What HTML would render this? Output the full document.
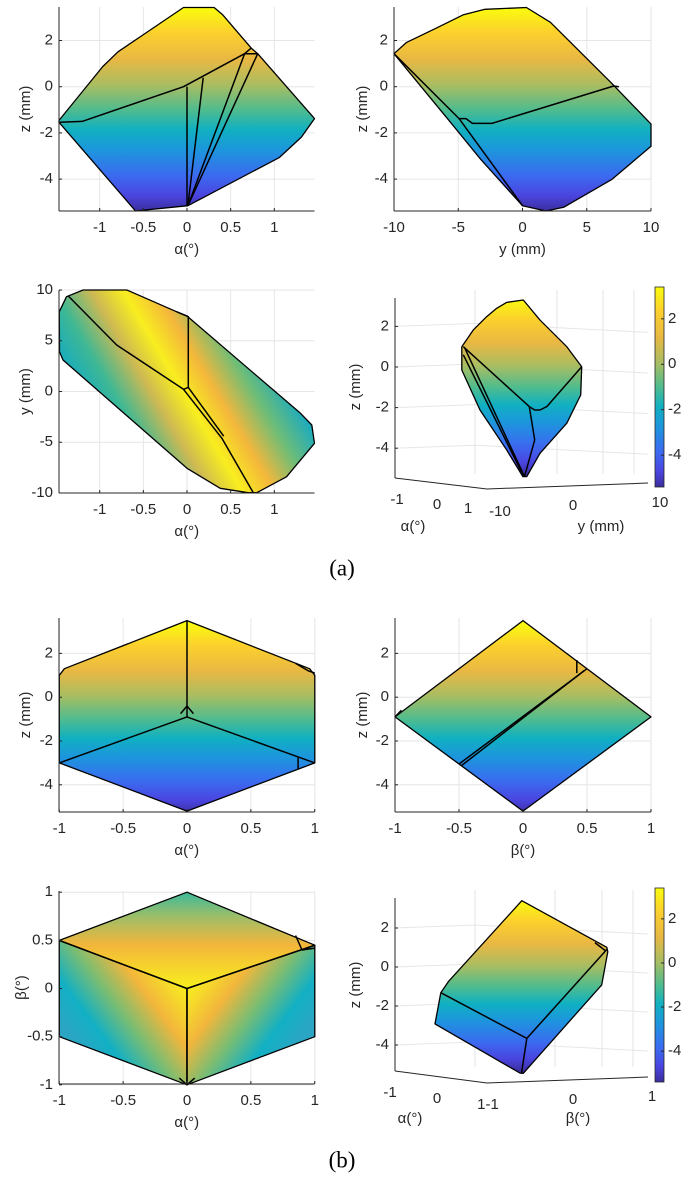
<!DOCTYPE html>
<html><head><meta charset="utf-8">
<style>
html,body{margin:0;padding:0;background:#fff;}
svg{display:block;font-family:"Liberation Sans",sans-serif;}
.tk{font-size:15px;fill:#262626;}
.cap{font-family:"Liberation Serif",serif;font-size:23px;fill:#000;}
</style></head>
<body>
<svg id="fig" width="685" height="1184" viewBox="0 0 685 1184" xmlns="http://www.w3.org/2000/svg">
<defs id="defs"></defs>
</svg>
<script>
// ---------- data (shape vertices in axis units) ----------
const a1Outline=[[-1.466,-1.46],[-0.966,0.87],[-0.79,1.51],[-0.54,2.15],[-0.04,3.43],[0.31,3.43],[0.41,3.11],[0.735,1.67],[0.81,1.43],[1.46,-1.38],[1.31,-2.18],[1.06,-3.06],[0.01,-5.15],[-0.59,-5.38],[-1.466,-1.54]];
const a1Edges=[[[-1.46,-1.54],[-1.2,-1.5],[-0.04,0],[0.66,1.43],[0.81,1.43]],[[0,0],[0,-5.15]],[[0.185,0.39],[0.01,-5.15]],[[0.66,1.43],[0.01,-5.15]],[[0.81,1.43],[0.01,-5.15]],[[0.66,1.43],[0.735,1.67]]];
const a2Outline=[[-10,1.43],[-9.04,1.91],[-6.66,2.55],[-4.63,3.11],[-2.92,3.35],[0.3,3.43],[2.17,2.79],[6.93,0.15],[10,-1.62],[10,-2.58],[6.93,-4.02],[3.2,-5.22],[1.83,-5.38],[0,-5.15],[-3.26,-3.14],[-5.6,-1.54]];
const a2Edges=[[[-10,1.43],[-4.93,-1.38],[-4.4,-1.38],[-3.9,-1.59],[-2.38,-1.59],[7.1,0.03],[7.5,0]],[[-4.93,-1.38],[0,-5.15]]];
const a3Outline=[[-1.463,7.86],[-1.38,9.34],[-1.19,10],[-0.69,10],[-0.12,7.86],[0,7.44],[1.3,-2.15],[1.43,-3.3],[1.46,-5.1],[1.14,-8.4],[0.8,-9.97],[0.7,-9.97],[0.38,-9.54],[0,-7.57],[-1.42,3.1],[-1.46,3.92]];
const a3Edges=[[[-1.36,9.41],[-0.805,4.58],[-0.04,0.22],[0.015,0.4],[0.015,7.37],[-0.12,7.86]],[[-0.04,0.22],[0.4,-4.61],[0.76,-9.97]],[[0.015,0.4],[0.42,-4.4]]];
const a4Outline=[[0.441,3.18],[0.507,3.3],[0.573,2.31],[0.679,1.0],[0.738,0.01],[0.734,-1.38],[0.679,-2.77],[0.573,-4.25],[0.521,-5.4],[0.505,-5.4],[0.441,-4.08],[0.336,-2.12],[0.264,-0.15],[0.264,1.0],[0.309,1.82],[0.362,2.48],[0.402,2.89]];
const a4Edges=[[[0.27,1.0],[0.531,-1.95],[0.552,-2.12],[0.573,-2.12],[0.6,-1.95],[0.738,0.01]],[[0.531,-1.95],[0.552,-3.59],[0.512,-5.4]],[[0.275,0.95],[0.512,-5.4]],[[0.27,0.6],[0.505,-5.3]]];
const b1Outline=[[0,3.5],[0.96,1.3],[1,1.0],[1,-3.0],[0,-5.2],[-1,-3.0],[-1,1.0],[-0.96,1.3]];
const b1Edges=[[[0,3.5],[0,-0.9]],[[-1,-3.0],[0,-0.9],[1,-3.0]],[[-0.05,-0.75],[0,-0.4],[0.05,-0.75]],[[0.87,-2.75],[0.87,-3.3]],[[0.85,1.55],[0.95,1.2],[1,1.1]]];
const b2Outline=[[0,3.5],[1,-0.9],[0,-5.2],[-1,-0.9]];
const b2Edges=[[[-0.5,-3.05],[0.5,1.3]],[[-0.48,-3.12],[0.48,1.22]],[[0.42,1.7],[0.42,1.1]],[[-1,-0.9],[-0.95,-0.6]]];
const b3Top=[[0,1],[1,0.45],[0,0],[-1,0.5]];
const b3Left=[[-1,0.5],[0,0],[0,-1],[-1,-0.5]];
const b3Right=[[0,0],[1,0.45],[1,-0.5],[0,-1]];
const b3Edges=[[[-1,0.5],[0,0],[1,0.45]],[[0,0],[0,-1]],[[0.85,0.55],[0.9,0.4],[1,0.42]],[[-0.06,-0.93],[0,-1],[0.06,-0.93]]];
const b4Outline=[[0.501,3.4],[0.837,1.01],[0.841,0.78],[0.817,-0.92],[0.507,-5.45],[0.494,-5.44],[0.158,-2.92],[0.181,-1.32],[0.211,-0.75]];
const b4Edges=[[[0.181,-1.32],[0.521,-3.66],[0.837,0.9]],[[0.521,-3.66],[0.5,-5.45]],[[0.79,1.25],[0.83,0.85]]];
const zTicks=[2,0,-2,-4];
const alphaTicksA=[-1,-0.5,0,0.5,1];
const yTicks=[-10,-5,0,5,10];
const unitTicks=[-1,-0.5,0,0.5,1];
const cbTicks=[2,0,-2,-4];
const zMin=-5.4, zMax=3.4;

// ---------- helpers ----------
const NS='http://www.w3.org/2000/svg';
const svg=document.getElementById('fig');
const defs=document.getElementById('defs');
function mk(tag,attrs,parent){const e=document.createElementNS(NS,tag);for(const k in attrs)e.setAttribute(k,attrs[k]);(parent||svg).appendChild(e);return e;}
function txt(x,y,s,cls,anchor,parent,rot){const t=mk('text',{x:x,y:y,'class':cls,'text-anchor':anchor||'middle','dominant-baseline':'middle'},parent);if(rot)t.setAttribute('transform','rotate(-90 '+x+' '+y+')');t.textContent=s;return t;}
const parStops=[[0,'#f9fb0e'],[0.12,'#fcd02d'],[0.25,'#e9b843'],[0.38,'#a8bd62'],[0.5,'#4fbc8e'],[0.6,'#10b0c2'],[0.7,'#1d95dd'],[0.82,'#3a6cf0'],[0.92,'#4a45e0'],[1,'#3b2e9c']];
function parula(id,yTop,yBot){const g=mk('linearGradient',{id:id,gradientUnits:'userSpaceOnUse',x1:0,y1:yTop,x2:0,y2:yBot},defs);parStops.forEach(s=>mk('stop',{offset:s[0],'stop-color':s[1]},g));}
function lin(id,x1,y1,x2,y2,stops){const g=mk('linearGradient',{id:id,gradientUnits:'userSpaceOnUse',x1:x1,y1:y1,x2:x2,y2:y2},defs);stops.forEach(s=>mk('stop',{offset:s[0],'stop-color':s[1]},g));}
function pts(arr,X,Y){return arr.map(p=>X(p[0]).toFixed(1)+','+Y(p[1]).toFixed(1)).join(' ');}
function axes2d(g,L,R,T,B,X,Y,xt,yt){
  xt.forEach(v=>{mk('line',{x1:X(v),x2:X(v),y1:T,y2:B,stroke:'#e6e6e6','stroke-width':1},g);});
  yt.forEach(v=>{mk('line',{x1:L,x2:R,y1:Y(v),y2:Y(v),stroke:'#e6e6e6','stroke-width':1},g);});
}
function axesFront(g,L,R,T,B,X,Y,xt,yt,xlab,ylab,ylabX){
  mk('line',{x1:L,x2:L,y1:T,y2:B,stroke:'#262626','stroke-width':1},g);
  mk('line',{x1:L,x2:R,y1:B,y2:B,stroke:'#262626','stroke-width':1},g);
  xt.forEach(v=>{mk('line',{x1:X(v),x2:X(v),y1:B,y2:B-3,stroke:'#262626'},g);txt(X(v),B+17,String(v),'tk','middle',g);});
  yt.forEach(v=>{mk('line',{x1:L,x2:L+3,y1:Y(v),y2:Y(v),stroke:'#262626'},g);txt(L-6,Y(v),String(v),'tk','end',g);});
  txt((L+R)/2,B+39,xlab,'tk','middle',g);
  txt(ylabX,(T+B)/2,ylab,'tk','middle',g,true);
}
function shape(g,outline,edges,X,Y,fill,name){
  const p=mk('polygon',{points:pts(outline,X,Y),fill:fill,stroke:'#000','stroke-width':1.3,'stroke-linejoin':'round'},g);
  
  
  edges.forEach(e=>{const l=mk('polyline',{points:pts(e,X,Y),fill:'none',stroke:'#000','stroke-width':1.5,'stroke-linejoin':'round'},g);
    
    });
}
function panel(name){const g=mk('g',{});return g;}
function colorbar(g,x,top,bot,id){
  parula(id,top,bot);
  const r=mk('rect',{x:x,y:top,width:9,height:bot-top,fill:'url(#'+id+')',stroke:'#262626','stroke-width':0.8},g);
  
  
  const C=v=>top+(zMax-v)/(zMax-zMin)*(bot-top);
  cbTicks.forEach(v=>{mk('line',{x1:x+9,x2:x+6,y1:C(v),y2:C(v),stroke:'#262626'},g);txt(x+13,C(v),String(v),'tk','start',g);});
}
function box3d(g,zAxisX,T,B,Z,aEnd,bEnd,verts,horizY){
  verts.forEach(x=>mk('line',{x1:x,x2:x,y1:T-8,y2:B-4,stroke:'#e6e6e6'},g));
  zTicks.forEach(v=>{const y=Z(v);mk('polyline',{points:zAxisX+','+y+' '+aEnd[0]+','+(y-3)+' '+bEnd[0]+','+(y+horizY),fill:'none',stroke:'#e6e6e6'},g);});
  mk('line',{x1:zAxisX,x2:zAxisX,y1:T,y2:B,stroke:'#262626'},g);
  zTicks.forEach(v=>{mk('line',{x1:zAxisX,x2:zAxisX+3,y1:Z(v),y2:Z(v),stroke:'#262626'},g);txt(zAxisX-6,Z(v),String(v),'tk','end',g);});
  mk('line',{x1:zAxisX,y1:B,x2:aEnd[1][0],y2:aEnd[1][1],stroke:'#262626'},g);
  mk('line',{x1:aEnd[1][0],y1:aEnd[1][1],x2:bEnd[1][0],y2:bEnd[1][1],stroke:'#262626'},g);
}

// ---------- (a) top-left ----------
(function(){const g=panel('panel-a1-z-vs-alpha');
 const X=a=>187+87.3*a, Y=z=>86.7-23.1*z, L=59,R=314.5,T=7,B=211;
 parula('pa1',Y(zMax),Y(zMin));
 axes2d(g,L,R,T,B,X,Y,alphaTicksA,zTicks);
 shape(g,a1Outline,a1Edges,X,Y,'url(#pa1)','a1');
 axesFront(g,L,R,T,B,X,Y,alphaTicksA,zTicks,'α(°)','z (mm)',26);
})();
// ---------- (a) top-right ----------
(function(){const g=panel('panel-a2-z-vs-y');
 const X=y=>522.5+12.85*y, Y=z=>86.7-23.1*z, L=394,R=651,T=7,B=211;
 parula('pa2',Y(zMax),Y(zMin));
 axes2d(g,L,R,T,B,X,Y,yTicks,zTicks);
 shape(g,a2Outline,a2Edges,X,Y,'url(#pa2)','a2');
 axesFront(g,L,R,T,B,X,Y,yTicks,zTicks,'y (mm)','z (mm)',363);
})();
// ---------- (a) bottom-left ----------
(function(){const g=panel('panel-a3-y-vs-alpha');
 const X=a=>187+87.3*a, Y=y=>391.5-10.15*y, L=59,R=314.5,T=290,B=493;
 lin('ga3',114,471,286,369,[[0,'#08a6cf'],[0.2,'#3fb894'],[0.36,'#cdb953'],[0.5,'#f8ee1f'],[0.64,'#f4b73c'],[0.8,'#6fbd76'],[1,'#08a6cf']]);
 axes2d(g,L,R,T,B,X,Y,alphaTicksA,yTicks);
 shape(g,a3Outline,a3Edges,X,Y,'url(#ga3)','a3');
 axesFront(g,L,R,T,B,X,Y,alphaTicksA,[10,5,0,-5,-10],'α(°)','y (mm)',26);
})();
// ---------- (a) bottom-right : 3D ----------
(function(){const g=panel('panel-a4-3d-view');
 const P=p=>395+253*p, Z=z=>367-20.3*z;
 parula('pa4',Z(zMax),Z(zMin));
 box3d(g,395,298,478,Z,[475,[487,489]],[648,[648,483]],[475,557,603,634],6);
 shape(g,a4Outline,a4Edges,P,Z,'url(#pa4)','a4');
 [[397,500,'-1'],[437,505,'0'],[468,509,'1'],[500,512,'-10'],[573,506,'0'],[660,503,'10']].forEach(t=>txt(t[0],t[1],t[2],'tk','middle',g));
 txt(413,527,'α(°)','tk','middle',g);txt(601,527,'y (mm)','tk','middle',g);
 txt(356,387,'z (mm)','tk','middle',g,true);
 colorbar(g,655,287,487,'cba');
})();
txt(342,570,'(a)','cap','middle');

// ---------- (b) top-left ----------
(function(){const g=panel('panel-b1-z-vs-alpha');
 const X=a=>187+127.75*a, Y=z=>697.2-21.9*z, L=59,R=314.5,T=618,B=812;
 parula('pb1',Y(zMax),Y(zMin));
 axes2d(g,L,R,T,B,X,Y,unitTicks,zTicks);
 shape(g,b1Outline,b1Edges,X,Y,'url(#pb1)','b1');
 axesFront(g,L,R,T,B,X,Y,unitTicks,zTicks,'α(°)','z (mm)',26);
})();
// ---------- (b) top-right ----------
(function(){const g=panel('panel-b2-z-vs-beta');
 const X=b=>523+128*b, Y=z=>697.2-21.9*z, L=395,R=651,T=618,B=812;
 parula('pb2',Y(zMax),Y(zMin));
 axes2d(g,L,R,T,B,X,Y,unitTicks,zTicks);
 shape(g,b2Outline,b2Edges,X,Y,'url(#pb2)','b2');
 axesFront(g,L,R,T,B,X,Y,unitTicks,zTicks,'β(°)','z (mm)',363);
})();
// ---------- (b) bottom-left ----------
(function(){const g=panel('panel-b3-beta-vs-alpha');
 const X=a=>187+127.75*a, Y=b=>988.5-96.3*b, L=59,R=314.5,T=891,B=1084;
 lin('gb3t',0,Y(0),0,Y(1),[[0,'#f8f01e'],[0.45,'#f3b63b'],[0.75,'#9cbe69'],[1,'#3cb99a']]);
 lin('gb3l',X(0),Y(0),X(-0.75),Y(-0.75),[[0,'#f8ee1f'],[0.3,'#f2b63c'],[0.55,'#7bbd72'],[0.8,'#12b0c4'],[1,'#2aa6c4']]);
 lin('gb3r',X(0),Y(0),X(0.75),Y(-0.75),[[0,'#f8ee1f'],[0.3,'#f2b63c'],[0.55,'#7bbd72'],[0.8,'#12b0c4'],[1,'#2aa6c4']]);
 axes2d(g,L,R,T,B,X,Y,unitTicks,unitTicks);
 shape(g,b3Left,[],X,Y,'url(#gb3l)','b3-left');
 shape(g,b3Right,[],X,Y,'url(#gb3r)','b3-right');
 shape(g,b3Top,b3Edges,X,Y,'url(#gb3t)','b3-top');
 axesFront(g,L,R,T,B,X,Y,unitTicks,[1,0.5,0,-0.5,-1],'α(°)','β(°)',22);
})();
// ---------- (b) bottom-right : 3D ----------
(function(){const g=panel('panel-b4-3d-view');
 const P=p=>395+253*p, Z=z=>967-19.5*z;
 parula('pb4',Z(zMax),Z(zMin));
 box3d(g,395,898,1071,Z,[475,[487,1083]],[648,[648,1077]],[475,555,602,633],6);
 shape(g,b4Outline,b4Edges,P,Z,'url(#pb4)','b4');
 [[390,1093,'-1'],[437,1099,'0'],[488,1105,'1-1'],[573,1100,'0'],[652,1097,'1']].forEach(t=>txt(t[0],t[1],t[2],'tk','middle',g));
 txt(410,1119,'α(°)','tk','middle',g);txt(578,1119,'β(°)','tk','middle',g);
 txt(356,985,'z (mm)','tk','middle',g,true);
 colorbar(g,655,888,1082,'cbb');
})();
txt(342,1162,'(b)','cap','middle');
</script>
</body></html>
